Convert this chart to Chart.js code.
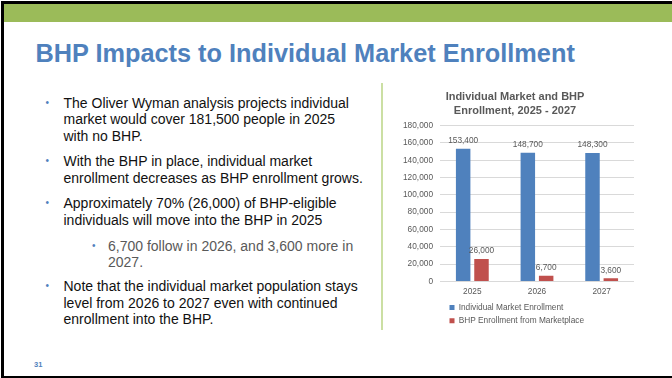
<!DOCTYPE html>
<html>
<head>
<meta charset="utf-8">
<script src="https://cdn.jsdelivr.net/npm/chart.js@4/dist/chart.umd.min.js"></script>
<style>
  html, body { margin: 0; padding: 0; background: #ffffff; }
  body { width: 672px; height: 378px; position: relative; overflow: hidden; font-family: "Liberation Sans", Arial, sans-serif; }
  #frame { position: absolute; left: 1px; top: 1px; width: 700px; height: 372px; border: 3px solid #000; border-right: none; box-sizing: content-box; }
  #bar { position: absolute; left: 4px; top: 4px; width: 700px; height: 18px; background: #9BBB59; }
  #title { position: absolute; left: 35.5px; top: 38px; font-size: 25.3px; line-height: 30px; font-weight: bold; color: #4F81BD; white-space: nowrap; }
  .p { position: absolute; left: 63.5px; font-size: 14px; line-height: 16.7px; color: #111; white-space: nowrap; }
  .p::before { content: "•"; position: absolute; left: -18px; top: 0; color: #4F81BD; font-size: 10px; }
  .sub { left: 108px; color: #595959; }
  .sub::before { left: -16px; }
  #divider { position: absolute; left: 381px; top: 83px; width: 2px; height: 247px; background: #cbdfa3; }
  #pnum { position: absolute; left: 34px; top: 359.5px; font-size: 7.5px; line-height: 10px; font-weight: bold; color: #4F81BD; }
  #chart { position: absolute; left: 390px; top: 85px; }
</style>
</head>
<body>
<div id="frame"></div>
<div id="bar"></div>
<div id="title">BHP Impacts to Individual Market Enrollment</div>
<div class="p" style="top:94.6px">The Oliver Wyman analysis projects individual<br>market would cover 181,500 people in 2025<br>with no BHP.</div>
<div class="p" style="top:153px">With the BHP in place, individual market<br>enrollment decreases as BHP enrollment grows.</div>
<div class="p" style="top:195px">Approximately 70% (26,000) of BHP-eligible<br>individuals will move into the BHP in 2025</div>
<div class="p sub" style="top:237.6px">6,700 follow in 2026, and 3,600 more in<br>2027.</div>
<div class="p" style="top:278px">Note that the individual market population stays<br>level from 2026 to 2027 even with continued<br>enrollment into the BHP.</div>
<div id="divider"></div>
<div id="pnum">31</div>
<canvas id="chart" width="254" height="250"></canvas>
<script>
const categories = ['2025', '2026', '2027'];
const individualMarket = [153400, 148700, 148300];
const bhpFromMarketplace = [26000, 6700, 3600];
const seriesNames = ['Individual Market Enrollment', 'BHP Enrollment from Marketplace'];
const yTickValues = [0, 20000, 40000, 60000, 80000, 100000, 120000, 140000, 160000, 180000];
const chartTitle = ['Individual Market and BHP', 'Enrollment, 2025 - 2027'];

const FONT = '"Liberation Sans", Arial, sans-serif';
const GRAY = '#595959';
const fmt = v => Number(v).toLocaleString('en-US');

const valueLabels = {
  id: 'valueLabels',
  afterDatasetsDraw(chart) {
    const ctx = chart.ctx;
    ctx.save();
    ctx.font = '8.3px ' + FONT;
    ctx.fillStyle = GRAY;
    ctx.textAlign = 'center';
    ctx.textBaseline = 'middle';
    chart.data.datasets.forEach((ds, i) => {
      const meta = chart.getDatasetMeta(i);
      meta.data.forEach((bar, j) => {
        ctx.fillText(fmt(ds.data[j]), bar.x, bar.y - 8);
      });
    });
    ctx.restore();
  }
};

const legendShift = {
  id: 'legendShift',
  afterLayout(chart) {
    const lg = chart.legend;
    if (lg) { lg.left += 48.5; lg.right += 48.5; }
  }
};

new Chart(document.getElementById('chart'), {
  type: 'bar',
  data: {
    labels: categories,
    datasets: [
      { label: seriesNames[0], data: individualMarket, backgroundColor: '#4F81BD', categoryPercentage: 0.567, barPercentage: 0.79 },
      { label: seriesNames[1], data: bhpFromMarketplace, backgroundColor: '#C0504D', categoryPercentage: 0.567, barPercentage: 0.79 }
    ]
  },
  options: {
    responsive: false,
    animation: false,
    devicePixelRatio: 1,
    layout: { padding: { left: 6, right: 10, top: 0, bottom: 0 } },
    plugins: {
      title: {
        display: true,
        text: chartTitle,
        color: GRAY,
        font: { family: FONT, size: 11, weight: 'bold', lineHeight: 1.27 },
        padding: { top: 4.7, bottom: 8 }
      },
      legend: {
        display: true,
        position: 'bottom',
        align: 'start',
        labels: {
          color: GRAY,
          font: { family: FONT, size: 8.3 },
          boxWidth: 5,
          boxHeight: 5,
          padding: 5
        }
      },
      tooltip: { enabled: false }
    },
    scales: {
      x: {
        grid: { display: false, drawTicks: false },
        border: { display: false },
        ticks: { color: GRAY, font: { family: FONT, size: 8.3 }, padding: 5 },
        afterFit: axis => { axis.height -= 3; }
      },
      y: {
        min: 0,
        max: 180000,
        afterBuildTicks: axis => { axis.ticks = yTickValues.map(v => ({ value: v })); },
        grid: { color: '#d9d9d9', drawTicks: false, lineWidth: 1 },
        border: { display: false },
        ticks: { color: GRAY, font: { family: FONT, size: 8.3 }, padding: 7, callback: v => fmt(v) }
      }
    }
  },
  plugins: [valueLabels, legendShift]
});
</script>
</body>
</html>
